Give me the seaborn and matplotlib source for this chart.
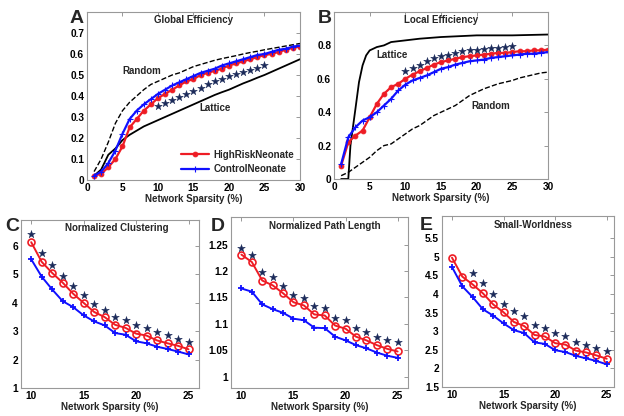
import numpy as np
import matplotlib
matplotlib.use("Agg")
import matplotlib.pyplot as plt
from matplotlib.ticker import FuncFormatter
import seaborn as sns

sns.set_theme(style="white")
plt.rcParams["font.family"] = ["Liberation Sans", "DejaVu Sans"]
plt.rcParams["font.weight"] = "bold"

RED = "#ee1c24"
BLUE = "#1010ff"
STAR = "#1c2b5a"

# ---- panel A: global efficiency (sparsity 1..30) ----
sp_full = list(range(1, 31))
ge_high = [0.02, 0.03, 0.06, 0.10, 0.16, 0.25, 0.29, 0.33, 0.36, 0.39,
           0.41, 0.43, 0.45, 0.47, 0.48, 0.50, 0.51, 0.52, 0.53, 0.545,
           0.555, 0.565, 0.575, 0.585, 0.595, 0.60, 0.61, 0.62, 0.63, 0.635]
ge_ctrl = [0.02, 0.04, 0.08, 0.14, 0.22, 0.29, 0.33, 0.36, 0.385, 0.41,
           0.43, 0.45, 0.465, 0.48, 0.495, 0.51, 0.52, 0.53, 0.545, 0.555,
           0.565, 0.575, 0.585, 0.595, 0.60, 0.61, 0.62, 0.625, 0.635, 0.64]
ge_rand = [0.04, 0.10, 0.18, 0.27, 0.33, 0.37, 0.40, 0.43, 0.455, 0.47,
           0.485, 0.50, 0.51, 0.525, 0.54, 0.55, 0.56, 0.57, 0.578, 0.585,
           0.592, 0.60, 0.607, 0.613, 0.62, 0.626, 0.632, 0.638, 0.644, 0.65]
ge_latt = [0.02, 0.05, 0.12, 0.15, 0.19, 0.215, 0.235, 0.255, 0.27, 0.285,
           0.30, 0.315, 0.33, 0.345, 0.36, 0.375, 0.39, 0.405, 0.418, 0.43,
           0.445, 0.46, 0.473, 0.487, 0.50, 0.515, 0.53, 0.545, 0.56, 0.575]
sp_star = list(range(10, 26))
ge_star = [0.35, 0.365, 0.38, 0.395, 0.41, 0.425, 0.44, 0.455, 0.47, 0.48,
           0.495, 0.505, 0.515, 0.525, 0.535, 0.548]

# ---- panel B: local efficiency ----
le_high = [0.08, 0.22, 0.26, 0.29, 0.37, 0.45, 0.51, 0.55, 0.57, 0.60,
           0.625, 0.645, 0.665, 0.685, 0.70, 0.71, 0.72, 0.73, 0.735, 0.74,
           0.745, 0.75, 0.755, 0.755, 0.76, 0.765, 0.765, 0.77, 0.77, 0.775]
le_ctrl = [0.09, 0.25, 0.31, 0.35, 0.37, 0.40, 0.44, 0.48, 0.53, 0.565,
           0.59, 0.605, 0.62, 0.64, 0.66, 0.67, 0.685, 0.695, 0.705, 0.71,
           0.715, 0.725, 0.73, 0.735, 0.74, 0.745, 0.75, 0.75, 0.755, 0.76]
le_rand = [0.02, 0.04, 0.07, 0.10, 0.13, 0.17, 0.20, 0.21, 0.24, 0.27,
           0.30, 0.32, 0.35, 0.38, 0.40, 0.42, 0.44, 0.47, 0.50, 0.52,
           0.54, 0.555, 0.57, 0.58, 0.59, 0.605, 0.615, 0.625, 0.635, 0.64]
sp_latt_b = [1, 2, 2.3, 3, 3.5, 4, 4.5, 5, 6, 7, 8, 10, 12, 15, 20, 25, 30]
le_latt = [0.0, 0.0, 0.2, 0.42, 0.58, 0.68, 0.74, 0.77, 0.79, 0.80, 0.82,
           0.83, 0.84, 0.85, 0.86, 0.86, 0.865]
le_star = [0.645, 0.665, 0.685, 0.705, 0.725, 0.735, 0.745, 0.755, 0.765,
           0.77, 0.775, 0.78, 0.785, 0.785, 0.79, 0.795]

# ---- panels C-E (sparsity 10..25) ----
sp_mid = list(range(10, 26))
nc_high = [6.12, 5.43, 5.04, 4.70, 4.31, 3.99, 3.67, 3.49, 3.22, 3.11,
           2.91, 2.84, 2.67, 2.57, 2.48, 2.36]
nc_ctrl = [5.52, 4.91, 4.46, 4.05, 3.84, 3.55, 3.34, 3.20, 2.93, 2.87,
           2.64, 2.57, 2.45, 2.37, 2.28, 2.18]
nc_star = [6.41, 5.74, 5.33, 4.95, 4.57, 4.26, 3.94, 3.75, 3.49, 3.40,
           3.22, 3.12, 2.97, 2.86, 2.71, 2.62]

pl_high = [1.231, 1.217, 1.182, 1.173, 1.158, 1.141, 1.135, 1.118, 1.116,
           1.097, 1.091, 1.076, 1.069, 1.060, 1.053, 1.048]
pl_ctrl = [1.167, 1.161, 1.137, 1.128, 1.121, 1.110, 1.107, 1.093, 1.092,
           1.076, 1.069, 1.060, 1.054, 1.046, 1.040, 1.036]
pl_star = [1.244, 1.231, 1.198, 1.189, 1.172, 1.155, 1.149, 1.133, 1.130,
           1.111, 1.107, 1.093, 1.084, 1.076, 1.070, 1.065]

sw_high = [4.98, 4.47, 4.26, 4.02, 3.72, 3.51, 3.25, 3.14, 2.90, 2.86,
           2.68, 2.64, 2.48, 2.43, 2.35, 2.26]
sw_ctrl = [4.73, 4.21, 3.92, 3.59, 3.42, 3.21, 3.03, 2.95, 2.70, 2.66,
           2.49, 2.44, 2.34, 2.27, 2.20, 2.11]
sp_star_e = list(range(12, 26))
sw_star = [4.58, 4.31, 4.00, 3.74, 3.55, 3.40, 3.17, 3.10, 2.95, 2.88,
           2.71, 2.64, 2.55, 2.47]

fig = plt.figure(figsize=(6.24, 4.16), dpi=100)
axA = fig.add_axes([0.1394, 0.5673, 0.3413, 0.4039])
axB = fig.add_axes([0.5353, 0.5697, 0.3430, 0.4015])
axC = fig.add_axes([0.0332, 0.0673, 0.2857, 0.4039])
axD = fig.add_axes([0.3702, 0.0673, 0.2837, 0.4110])
axE = fig.add_axes([0.7078, 0.0697, 0.2761, 0.4110])

fmt = FuncFormatter(lambda v, p: "%g" % round(v, 3))


def style(ax, xlim, ylim, xt, yt, title, tx=0.5):
    ax.set_xlim(*xlim)
    ax.set_ylim(*ylim)
    ax.set_xticks(xt)
    ax.set_yticks(yt)
    ax.xaxis.set_major_formatter(fmt)
    ax.yaxis.set_major_formatter(fmt)
    ax.tick_params(direction="in", length=3, width=0.6, labelsize=7.3,
                   top=True, right=True, pad=2, colors="#888888",
                   labelcolor="black")
    for s in ax.spines.values():
        s.set_color("#999999")
        s.set_linewidth(0.8)
    ax.set_xlabel("Network Sparsity (%)", fontsize=7, fontweight="bold", labelpad=1)
    ax.set_ylabel("")
    ax.text(tx, 0.95, title, transform=ax.transAxes, ha="center", va="center",
            fontsize=7, fontweight="bold")


def stars(ax, x, y):
    sns.scatterplot(x=x, y=y, ax=ax, marker="*", s=34, color=STAR,
                    edgecolor=STAR, linewidth=0.3, legend=False, zorder=5)


# A
sns.lineplot(x=sp_full, y=ge_rand, ax=axA, color="black", linestyle="--", linewidth=1.0)
sns.lineplot(x=sp_full, y=ge_latt, ax=axA, color="black", linewidth=1.3)
sns.lineplot(x=sp_full, y=ge_high, ax=axA, color=RED, linewidth=1.6, marker="o",
             markersize=3.5, markeredgewidth=0.6, markeredgecolor=RED,
             label="HighRiskNeonate")
sns.lineplot(x=sp_full, y=ge_ctrl, ax=axA, color=BLUE, linewidth=1.6, marker="+",
             markersize=4, markeredgewidth=0.8, markeredgecolor=BLUE,
             label="ControlNeonate")
stars(axA, sp_star, ge_star)
axA.legend(loc="lower right", frameon=False, fontsize=7, handlelength=2.9,
           borderaxespad=0.2, labelspacing=0.45, handletextpad=0.4,
           bbox_to_anchor=(1.0, 0.0))
style(axA, (0, 30), (0, 0.8), range(0, 31, 5), np.arange(0, 0.71, 0.1), "Global Efficiency")
axA.text(7.7, 0.52, "Random", ha="center", va="center", fontsize=7, fontweight="bold")
axA.text(18, 0.345, "Lattice", ha="center", va="center", fontsize=7, fontweight="bold")

# B
sns.lineplot(x=sp_full, y=le_rand, ax=axB, color="black", linestyle="--", linewidth=1.0)
sns.lineplot(x=sp_latt_b, y=le_latt, ax=axB, color="black", linewidth=1.3)
sns.lineplot(x=sp_full, y=le_high, ax=axB, color=RED, linewidth=1.6, marker="o",
             markersize=3.5, markeredgewidth=0.6, markeredgecolor=RED)
sns.lineplot(x=sp_full, y=le_ctrl, ax=axB, color=BLUE, linewidth=1.6, marker="+",
             markersize=4, markeredgewidth=0.8, markeredgecolor=BLUE)
stars(axB, sp_star, le_star)
style(axB, (0, 30), (0, 1.0), range(0, 31, 5), np.arange(0, 0.81, 0.2), "Local Efficiency")
axB.text(8.2, 0.745, "Lattice", ha="center", va="center", fontsize=7, fontweight="bold")
axB.text(21.9, 0.44, "Random", ha="center", va="center", fontsize=7, fontweight="bold")


def group_panel(ax, yh, yc):
    sns.lineplot(x=sp_mid, y=yh, ax=ax, color=RED, linewidth=1.4, marker="o",
                 markersize=5, markerfacecolor="none", markeredgecolor=RED,
                 markeredgewidth=1.2)
    sns.lineplot(x=sp_mid, y=yc, ax=ax, color=BLUE, linewidth=1.4, marker="+",
                 markersize=5, markeredgewidth=1.3, markeredgecolor=BLUE)


group_panel(axC, nc_high, nc_ctrl)
stars(axC, sp_mid, nc_star)
style(axC, (9, 26), (1, 6.9), [10, 15, 20, 25], range(1, 7), "Normalized Clustering", 0.54)

group_panel(axD, pl_high, pl_ctrl)
stars(axD, sp_mid, pl_star)
style(axD, (9, 26), (0.979, 1.302), [10, 15, 20, 25], np.arange(1, 1.26, 0.05),
      "Normalized Path Length", 0.53)

group_panel(axE, sw_high, sw_ctrl)
stars(axE, sp_star_e, sw_star)
style(axE, (9, 25.7), (1.5, 6.1), [10, 15, 20, 25], np.arange(1.5, 5.6, 0.5),
      "Small-Worldness", 0.53)

for lab, x, y in [("A", 0.112, 0.975), ("B", 0.510, 0.975), ("C", 0.008, 0.475),
                  ("D", 0.337, 0.475), ("E", 0.673, 0.478)]:
    fig.text(x, y, lab, fontsize=14, fontweight="bold", ha="left", va="top")

fig.savefig("out.png", dpi=100)
